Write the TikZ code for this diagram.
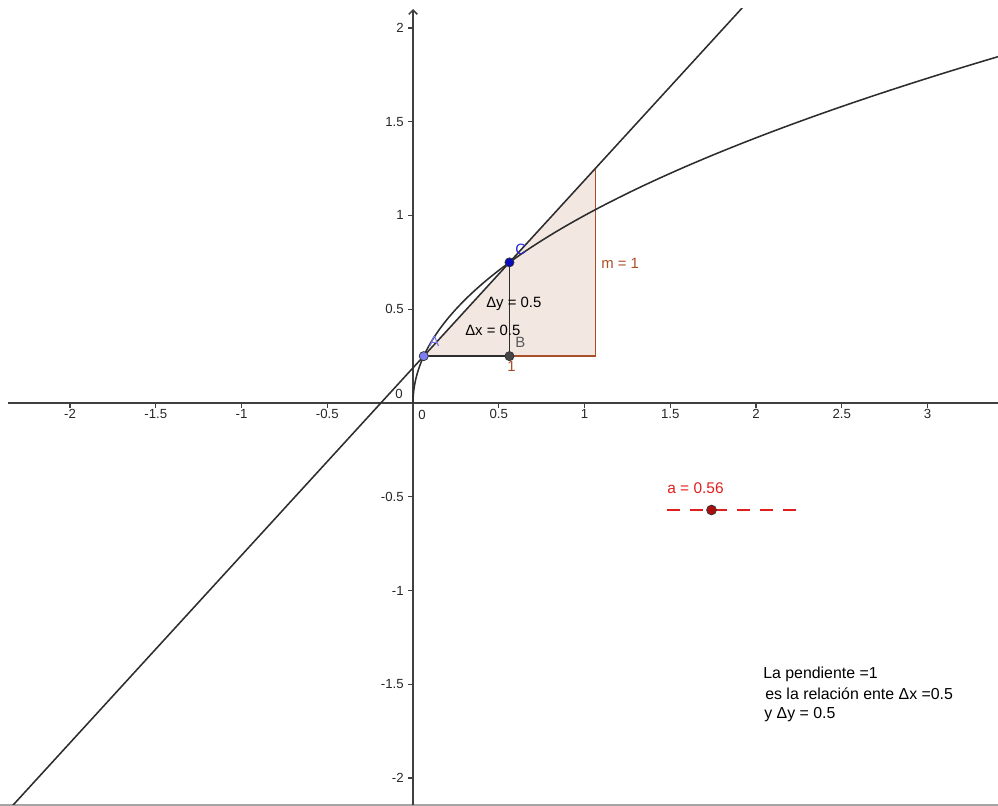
\documentclass[tikz,border=0pt]{standalone}
\usepackage{fontspec}
\setmainfont{Liberation Sans}
\usetikzlibrary{arrows.meta}
\definecolor{axisgray}{RGB}{64,64,64}
\definecolor{curvegray}{RGB}{45,45,45}
\definecolor{slopebrown}{RGB}{170,80,40}
\definecolor{slopefill}{RGB}{243,231,226}
\definecolor{sliderred}{RGB}{225,30,30}
\definecolor{sliderdot}{RGB}{170,15,15}
\definecolor{pointA}{RGB}{125,125,245}
\definecolor{pointC}{RGB}{10,10,190}
\definecolor{labelA}{RGB}{120,120,235}
\definecolor{labelC}{RGB}{40,40,220}
\definecolor{pointB}{RGB}{70,70,70}
\definecolor{framegray}{RGB}{165,165,165}
\begin{document}
\begin{tikzpicture}[x=0.025cm,y=-0.025cm,
  axis/.style={draw=axisgray,line width=1.1pt},
  tickmark/.style={draw=axisgray,line width=0.8pt},
  ticklbl/.style={font=\fontsize{9.4}{11}\selectfont,inner sep=0pt,text=black!85},
  lbl/.style={font=\fontsize{10.6}{12}\selectfont,inner sep=0pt,anchor=base west},
  graph/.style={draw=curvegray,line width=1.1pt},
  pt/.style={circle,draw=black!80,line width=0.5pt,minimum size=6.5pt,inner sep=0pt},
  txt/.style={font=\fontsize{11.3}{13}\selectfont,inner sep=0pt,anchor=base west}
]
\useasboundingbox (0,0) rectangle (998,806);

% frame line at bottom
\coordinate (f1) at (0,805);
\coordinate (f2) at (998,805);
\draw[framegray,line width=1pt] (f1) -- (f2);

\begin{scope}
\clip (8,9) rectangle (998,804);

% axes
\coordinate (xa1) at (8,403);
\coordinate (xa2) at (998,403);
\coordinate (ya1) at (413,806);
\coordinate (ya2) at (413,9);
\draw[axis] (xa1) -- (xa2);
\draw[axis,-{Straight Barb[length=3pt,width=6pt]}] (ya1) -- (ya2);

% ticks and labels
\foreach \k/\t in {-4/-2,-3/-1.5,-2/-1,-1/-0.5,1/0.5,2/1,3/1.5,4/2,5/2.5,6/3}{
  \draw[tickmark] ({413+85.75*\k},403) -- ++(0,5);
  \node[ticklbl,anchor=base] (xl\k) at ({413+85.75*\k},418) {\t};
}
\foreach \k/\t in {4/2,3/1.5,2/1,1/0.5,-1/-0.5,-2/-1,-3/-1.5,-4/-2}{
  \draw[tickmark] (408,{403-93.75*\k}) -- (413,{403-93.75*\k});
  \node[ticklbl,anchor=base east] (yl\k) at (404,{407.5-93.75*\k}) {\t};
}
\node[ticklbl,anchor=base] (o1) at (399,398.5) {0};
\node[ticklbl,anchor=base] (o2) at (422,419.5) {0};

% key points
\coordinate (A) at (423.72,356.125);
\coordinate (B) at (509.47,356.125);
\coordinate (C) at (509.47,262.375);
\coordinate (D) at (595.22,356.125);
\coordinate (E) at (595.22,168.625);
\coordinate (L1) at (-15.75,836.6);
\coordinate (L2) at (756,-7.2);

% slope triangle
\fill[slopefill] (A) -- (D) -- (E) -- cycle;
\draw[slopebrown,line width=0.9pt] (B) -- (D) -- (E);

% curve y = sqrt(x)
\draw[graph] plot[domain=0:1.9,samples=150,variable=\t] ({413+171.5*\t*\t},{403-187.5*\t});
% line through A and C
\draw[graph] (L1) -- (L2);
% delta segments
\draw[graph,line width=1pt] (A) -- (B) -- (C);
\end{scope}

% labels
\node[lbl,text=slopebrown] (m) at (601,269) {m = 1};
\node[lbl,text=slopebrown,anchor=base] (one) at (511.5,371.5) {1};
\node[lbl] (dx) at (465,335) {Δx = 0.5};
\node[lbl] (dy) at (486,307.5) {Δy = 0.5};
\node[lbl,text=black!65] (lB) at (515,347.5) {B};
\node[lbl,text=labelA] (lA) at (429,347) {A};
\node[lbl,text=labelC] (lC) at (515,255) {C};

% points
\node[pt,fill=pointA] (pA) at (A) {};
\node[pt,fill=pointB] (pB) at (B) {};
\node[pt,fill=pointC] (pC) at (C) {};

% slider
\coordinate (s1) at (667,510);
\coordinate (s2) at (800,510);
\draw[sliderred,line width=2.1pt,dash pattern=on 9.4pt off 7.1pt] (s1) -- (s2);
\node[pt,fill=sliderdot,minimum size=7pt] (sa) at (711.5,510) {};
\node[lbl,text=sliderred,font=\fontsize{11}{13}\selectfont] (alab) at (667,493.5) {a = 0.56};

% text block
\node[txt] (t1) at (763,678.5) {La pendiente =1};
\node[txt] (t2) at (765,699.5) {es la relación ente Δx =0.5};
\node[txt] (t3) at (764,718.5) {y Δy = 0.5};
\end{tikzpicture}
\end{document}
